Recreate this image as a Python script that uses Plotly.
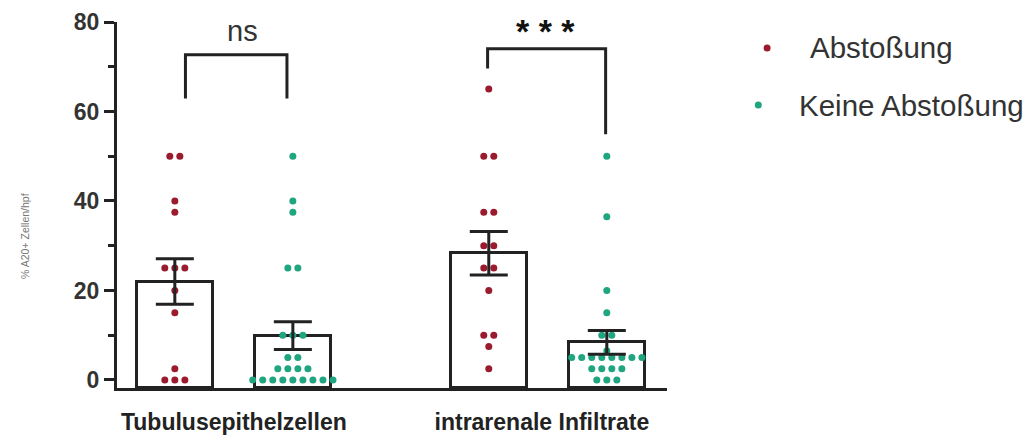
import numpy as np
import plotly.graph_objects as go

# ---------------- data ----------------
categories = ["Tubulusepithelzellen", "intrarenale Infiltrate"]
series_names = ["Abstoßung", "Keine Abstoßung"]
y_title = "% A20+ Zellen/hpf"

tub_rej = [50, 50, 40, 37.5, 25, 25, 25, 20, 15, 2.5, 0, 0, 0]
tub_norej = [50, 40, 37.5, 25, 25, 10, 10, 10, 5, 5, 2.5, 2.5, 2.5, 2.5,
             0, 0, 0, 0, 0, 0, 0, 0, 0]
inf_rej = [65, 50, 50, 37.5, 37.5, 30, 30, 25, 25, 20, 10, 10, 7.5, 2.5]
inf_norej = [50, 36.5, 20, 15, 10, 10, 6.5, 5, 5, 5, 5, 5, 5, 5, 5,
             2.5, 2.5, 2.5, 2.5, 0, 0, 0]

# bar means and SEM (order: tub_rej, tub_norej, inf_rej, inf_norej)
bar_means = [22.0, 9.9, 28.3, 8.4]
bar_sem = [5.1, 3.1, 4.85, 2.65]

y_ticks = [0, 20, 40, 60, 80]
sig_labels = ["ns", "***"]

# ---------------- styling / layout constants ----------------
RED = "#9b1b2e"
GREEN = "#1fa57f"
AXIS = "#222222"
TXT = "#333333"
GROUP_POS = [0.0, 2.66]
LABEL_OFF = [0.5, 0.45]
BAR_W = 0.644
DOT_STEP = 0.085
Y_MIN, Y_MAX = -1.8, 80
X_MIN, X_MAX = -0.49, 4.17
COLORS = [RED, GREEN]
# manual legend placement (paper coords): marker x, text x, y
LEG_POS = [(1.182, 1.256, 0.929), (1.166, 1.236, 0.773)]


def swarm(values, center):
    vals = np.asarray(values, dtype=float)
    xs = np.zeros_like(vals)
    for v in np.unique(vals):
        idx = np.where(vals == v)[0]
        n = len(idx)
        offs = (np.arange(n) - (n - 1) / 2) * DOT_STEP
        xs[idx] = center + offs
    return xs.tolist()


bar_x = [GROUP_POS[0], GROUP_POS[0] + 1, GROUP_POS[1], GROUP_POS[1] + 1]

fig = go.Figure()

# bars (white, black outline), drawn from the axis baseline
fig.add_trace(go.Bar(
    x=bar_x, y=[m - Y_MIN for m in bar_means], base=Y_MIN, width=BAR_W,
    marker=dict(color="white", line=dict(color=AXIS, width=3)),
    showlegend=False, hoverinfo="skip"))

# dots
red_x = swarm(tub_rej, bar_x[0]) + swarm(inf_rej, bar_x[2])
red_y = tub_rej + inf_rej
green_x = swarm(tub_norej, bar_x[1]) + swarm(inf_norej, bar_x[3])
green_y = tub_norej + inf_norej

fig.add_trace(go.Scatter(x=red_x, y=red_y, mode="markers", name=series_names[0],
                         marker=dict(color=RED, size=7)))
fig.add_trace(go.Scatter(x=green_x, y=green_y, mode="markers", name=series_names[1],
                         marker=dict(color=GREEN, size=7)))

# error bars on top
fig.add_trace(go.Scatter(
    x=bar_x, y=bar_means, mode="markers",
    marker=dict(size=0.1, color="rgba(0,0,0,0)"),
    error_y=dict(type="data", array=bar_sem, visible=True, color=AXIS,
                 thickness=3, width=19),
    showlegend=False, hoverinfo="skip"))

# significance brackets
brackets = [
    # (x_left, x_right, y_top, y_left_bottom, y_right_bottom)
    (0.09, 0.95, 72.7, 62.9, 62.9),
    (2.65, 3.65, 74.0, 69.6, 54.9),
]
shapes = []
for xl, xr, yt, ylb, yrb in brackets:
    shapes.append(dict(type="path", xref="x", yref="y",
                       path=f"M {xl},{ylb} L {xl},{yt} L {xr},{yt} L {xr},{yrb}",
                       line=dict(color=AXIS, width=3)))

annotations = [
    dict(x=0.57, y=78.0, xref="x", yref="y", text=sig_labels[0], showarrow=False,
         font=dict(family="Liberation Sans", size=29, color=TXT)),
    dict(x=3.14, y=78.0, xref="x", yref="y",
         text="<b>" + " ".join(sig_labels[1]) + "</b>",
         showarrow=False,
         font=dict(family="Liberation Sans", size=34, color="#111")),
    # y-axis title (placed as rotated text, slightly below centre as in the original)
    dict(x=-0.167, y=0.416, xref="paper", yref="paper", text=y_title,
         textangle=-90, showarrow=False, xanchor="center", yanchor="middle",
         font=dict(family="Liberation Sans", size=10.5, color="#777")),
]

# manual legend (markers as pixel-sized circles, names as text)
for (mx, tx, ly), name, col in zip(LEG_POS, series_names, COLORS):
    shapes.append(dict(type="circle", xref="paper", yref="paper",
                       xsizemode="pixel", ysizemode="pixel",
                       xanchor=mx, yanchor=ly, x0=-3.5, x1=3.5, y0=-3.5, y1=3.5,
                       fillcolor=col, line=dict(width=0)))
    annotations.append(dict(x=tx, y=ly, xref="paper", yref="paper", text=name,
                            xanchor="left", yanchor="middle", showarrow=False,
                            font=dict(family="Liberation Sans", size=29.5, color=TXT)))

# page body has an 8px margin, so the figure is made 8px smaller on each side
fig.update_layout(
    width=1027, height=427,
    margin=dict(l=109, r=368, t=14, b=47),
    paper_bgcolor="white", plot_bgcolor="white",
    bargap=0, barmode="overlay",
    shapes=shapes, annotations=annotations,
    showlegend=False,
)

fig.update_xaxes(
    range=[X_MIN, X_MAX], showgrid=False, zeroline=False, automargin=False,
    showline=True, linecolor=AXIS, linewidth=3,
    tickvals=[g + o for g, o in zip(GROUP_POS, LABEL_OFF)],
    ticktext=["<b>" + c + "</b>" for c in categories],
    ticks="", ticklabelstandoff=11,
    tickfont=dict(family="Liberation Sans", size=23, color="#222"),
)

fig.update_yaxes(
    range=[Y_MIN, Y_MAX], showgrid=False, zeroline=False, automargin=False,
    showline=True, linecolor=AXIS, linewidth=3,
    tickvals=y_ticks, ticktext=["<b>%d</b>" % t for t in y_ticks],
    ticks="outside", ticklen=10, tickwidth=3, tickcolor=AXIS,
    ticklabeloverflow="allow",
    tickfont=dict(family="Liberation Sans", size=23, color=TXT),
    minor=dict(tickvals=[10, 30, 50, 70], ticks="outside", ticklen=6,
               tickwidth=3, tickcolor=AXIS),
)

fig.write_html("out.html")
